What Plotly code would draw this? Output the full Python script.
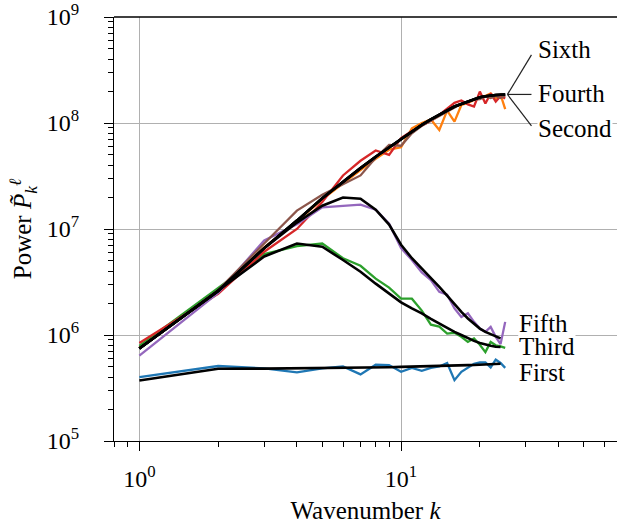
import math
import plotly.graph_objects as go

# ---------------- data ----------------
k_data = list(range(1, 26))
k_model = list(range(1, 25))
k_model_up = list(range(1, 26))

first_data = [4.0e5, 5.1e5, 4.85e5, 4.45e5, 4.85e5, 5.05e5, 4.25e5, 5.25e5, 5.2e5, 4.5e5,
              4.9e5, 4.6e5, 4.9e5, 5.05e5, 5.45e5, 3.75e5, 4.5e5, 4.95e5, 5.35e5, 5.5e5,
              5.5e5, 4.95e5, 5.85e5, 5.45e5, 4.9e5]
second_data = [7.6e5, 2.6e6, 6.7e6, 1.18e7, 1.9e7, 2.7e7, 3.6e7, 4.6e7, 5.6e7, 5.9e7,
               8.9e7, 1.0e8, 1.08e8, 8.6e7, 1.31e8, 1.03e8, 1.48e8, 1.55e8, 1.65e8, 1.75e8,
               1.8e8, 1.9e8, 1.7e8, 1.85e8, 1.35e8]
third_data = [7.9e5, 2.8e6, 5.8e6, 6.9e6, 7.3e6, 5.3e6, 4.5e6, 3.4e6, 2.8e6, 2.2e6,
              2.2e6, 1.7e6, 1.25e6, 1.2e6, 1.03e6, 1.05e6, 9.6e5, 8.6e5, 9.3e5, 8.1e5,
              6.9e5, 8.6e5, 8.0e5, 7.8e5, 7.55e5]
fourth_data = [8.4e5, 2.45e6, 6.1e6, 1.0e7, 1.8e7, 3.2e7, 4.4e7, 5.5e7, 5.0e7, 7.2e7,
               8.4e7, 9.5e7, 1.05e8, 1.19e8, 1.35e8, 1.55e8, 1.63e8, 1.5e8, 1.43e8, 1.98e8,
               1.53e8, 1.9e8, 1.59e8, 1.8e8, 1.7e8]
fifth_data = [6.4e5, 2.5e6, 7.8e6, 1.11e7, 1.6e7, 1.66e7, 1.7e7, 1.52e7, 1.12e7, 6.6e6,
              5.1e6, 3.9e6, 3.3e6, 2.55e6, 2.4e6, 1.78e6, 1.48e6, 1.6e6, 1.33e6, 1.15e6,
              1.07e6, 1.19e6, 9.6e5, 8.2e5, 1.33e6]
sixth_data = [7.5e5, 2.65e6, 7.3e6, 1.49e7, 2.1e7, 2.65e7, 3.2e7, 4.7e7, 6.2e7, 6.1e7,
              8.0e7, 9.4e7, 1.05e8, 1.17e8, 1.3e8, 1.42e8, 1.52e8, 1.58e8, 1.66e8, 1.68e8,
              1.78e8, 1.72e8, 1.8e8, 1.72e8, 1.82e8]

first_model = [3.72e5, 4.8e5, 4.82e5, 4.84e5, 4.86e5, 4.88e5, 4.9e5, 4.93e5, 4.96e5, 5.0e5,
               5.02e5, 5.05e5, 5.08e5, 5.1e5, 5.13e5, 5.15e5, 5.18e5, 5.2e5, 5.22e5, 5.25e5,
               5.27e5, 5.3e5, 5.32e5, 5.35e5]
third_model = [7.45e5, 2.6e6, 5.5e6, 7.3e6, 6.8e6, 5.1e6, 3.95e6, 3.05e6, 2.45e6, 2.03e6,
               1.78e6, 1.6e6, 1.42e6, 1.28e6, 1.17e6, 1.07e6, 1.0e6, 9.3e5, 8.8e5, 8.4e5,
               8.1e5, 7.9e5, 7.75e5, 7.7e5]
fifth_model = [7.45e5, 2.6e6, 6.6e6, 1.15e7, 1.66e7, 1.98e7, 1.93e7, 1.52e7, 1.1e7, 7.1e6,
               5.3e6, 4.25e6, 3.45e6, 2.85e6, 2.35e6, 1.95e6, 1.65e6, 1.43e6, 1.27e6, 1.15e6,
               1.07e6, 1.02e6, 9.7e5, 9.3e5]
upper_model = [7.45e5, 2.6e6, 6.6e6, 1.2e7, 1.95e7, 2.8e7, 3.75e7, 4.8e7, 5.9e7, 7.05e7,
               8.3e7, 9.6e7, 1.08e8, 1.19e8, 1.31e8, 1.43e8, 1.51e8, 1.59e8, 1.67e8, 1.75e8,
               1.79e8, 1.83e8, 1.84e8, 1.85e8, 1.86e8]

series_names = ["First", "Second", "Third", "Fourth", "Fifth", "Sixth"]
colors = ["#1f77b4", "#ff7f0e", "#2ca02c", "#d62728", "#9467bd", "#8c564b"]
datas = [first_data, second_data, third_data, fourth_data, fifth_data, sixth_data]

x_ticks = [1, 10]
x_ticktext = ["10<sup>0</sup>", "10<sup>1</sup>"]
x_minor = [0.8, 0.9] + [2, 3, 4, 5, 6, 7, 8, 9] + [20, 30, 40, 50, 60]
y_ticks = [1e5, 1e6, 1e7, 1e8, 1e9]
y_ticktext = ["10<sup>5</sup>", "10<sup>6</sup>", "10<sup>7</sup>", "10<sup>8</sup>", "10<sup>9</sup>"]
y_minor = [m * 10 ** e for e in range(5, 9) for m in range(2, 10)]

# ---------------- figure ----------------
FONT = "Liberation Serif"
FS = 24
FS_LAB = 25
XR = [math.log10(0.8), math.log10(0.8) + 503 / 261.7]
YR = [5, 9]

fig = go.Figure()
for name, col, d in zip(series_names, colors, datas):
    fig.add_trace(go.Scatter(x=k_data, y=d, mode="lines", name=name,
                             line=dict(color=col, width=2.3), showlegend=False))

for m, kk in [(first_model, k_model), (third_model, k_model), (fifth_model, k_model),
              (upper_model, k_model_up), (upper_model, k_model_up), (upper_model, k_model_up)]:
    fig.add_trace(go.Scatter(x=kk, y=m, mode="lines", line=dict(color="black", width=2.6),
                             showlegend=False))


def fx(v):
    return (math.log10(v) - XR[0]) / (XR[1] - XR[0])


def fy(v):
    return (math.log10(v) - YR[0]) / (YR[1] - YR[0])


# leader lines for the upper labels
pivot_k = k_model_up[-1] * 1.02
pivot_v = upper_model[-1]
end_k = 31.5
for end_v in [4.39e8, pivot_v, 9.4e7]:
    fig.add_shape(type="line", xref="paper", yref="paper",
                  x0=fx(pivot_k), y0=fy(pivot_v), x1=fx(end_k), y1=fy(end_v),
                  line=dict(color="#222", width=1.2))

# top spine
fig.add_shape(type="line", xref="paper", yref="paper", x0=0, x1=1, y0=1, y1=1,
              line=dict(color="black", width=1.3))

labels = [("Sixth", 33, 4.89e8), ("Fourth", 33, 1.88e8), ("Second", 33, 8.97e7),
          ("Fifth", 28.1, 1.29e6), ("Third", 28.1, 7.73e5), ("First", 28.1, 4.46e5)]
for txt, lx, ly in labels:
    fig.add_annotation(x=math.log10(lx), y=math.log10(ly), xref="x", yref="y",
                       text=txt, showarrow=False, xanchor="left", yanchor="middle",
                       bgcolor="white", borderpad=0,
                       font=dict(family=FONT, size=FS_LAB, color="black"))

axis_common = dict(type="log", showline=True, linecolor="black", linewidth=1.3,
                   ticks="outside", ticklen=9, tickwidth=1.3, tickcolor="black",
                   showgrid=True, gridcolor="#b0b0b0", gridwidth=1.3, zeroline=False,
                   tickfont=dict(family=FONT, size=FS, color="black"), mirror=False,
                   automargin=False, ticklabeloverflow="allow")

fig.update_xaxes(**axis_common, range=XR, tickmode="array", tickvals=x_ticks,
                 ticktext=x_ticktext, ticklabelstandoff=7,
                 minor=dict(tickmode="array", tickvals=x_minor, ticks="outside",
                            ticklen=5, tickwidth=1.3, tickcolor="black", showgrid=False),
                 title=dict(text="Wavenumber <i>k</i>", font=dict(family=FONT, size=FS_LAB, color="black"),
                            standoff=10))
fig.update_yaxes(**axis_common, range=YR, tickmode="array", tickvals=y_ticks,
                 ticktext=y_ticktext, ticklabelstandoff=20,
                 minor=dict(tickmode="array", tickvals=y_minor, ticks="outside",
                            ticklen=5, tickwidth=1.3, tickcolor="black", showgrid=False),
                 title=dict(text="Power <i>P̃</i><sub><i>k</i></sub><sup><i>ℓ</i></sup>",
                            font=dict(family=FONT, size=FS_LAB, color="black"), standoff=7))

fig.update_layout(width=617, height=524, margin=dict(l=114, r=0, t=17, b=83),
                  paper_bgcolor="white", plot_bgcolor="white", showlegend=False,
                  font=dict(family=FONT, size=FS, color="black"))

# remove the default 8px page margin so the figure fills the window exactly
fig.write_html("out.html", config={"displayModeBar": False},
               post_script="document.body.style.margin='0';")
